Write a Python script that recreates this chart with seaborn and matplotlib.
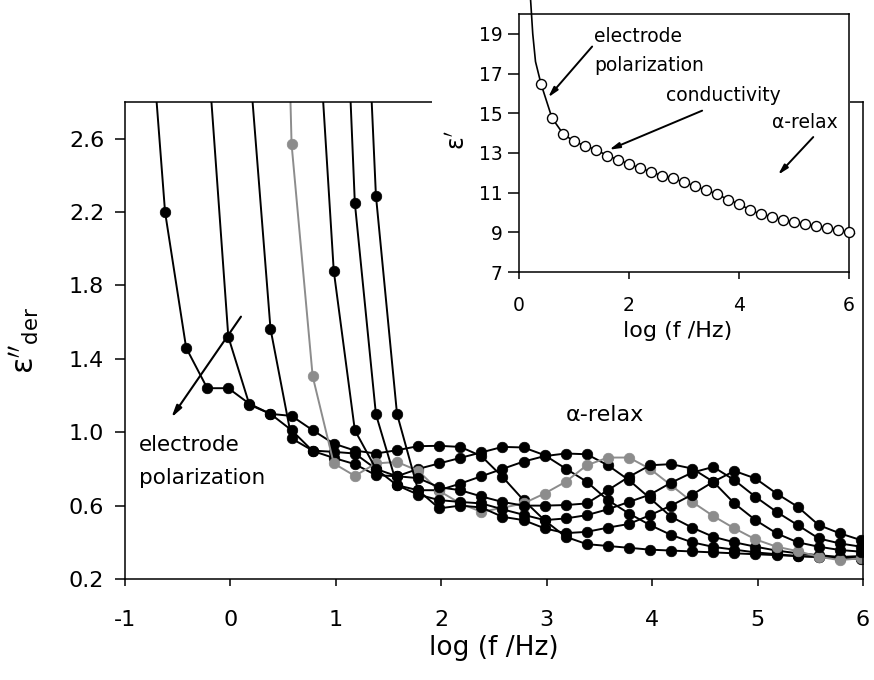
import numpy as np
import pandas as pd
import matplotlib
matplotlib.use("Agg")
import matplotlib.pyplot as plt
from matplotlib.patches import Rectangle
import seaborn as sns

# main panel: derivative loss, markers every 0.2 decade (first point of each series lies above the frame)
logf_grid = [-0.82, -0.62, -0.42, -0.22, -0.02, 0.18, 0.38, 0.58, 0.78, 0.98, 1.18, 1.38,
             1.58, 1.78, 1.98, 2.18, 2.38, 2.58, 2.78, 2.98, 3.18, 3.38, 3.58, 3.78, 3.98,
             4.18, 4.38, 4.58, 4.78, 4.98, 5.18, 5.38, 5.58, 5.78, 5.98]

eps_der_1 = [3.70, 2.20, 1.46, 1.24, 1.24, 1.155, 1.10, 1.089, 1.011, 0.938, 0.90, 0.884,
             0.902, 0.924, 0.926, 0.92, 0.87, 0.757, 0.63, 0.52, 0.43, 0.39, 0.38, 0.37,
             0.36, 0.355, 0.35, 0.345, 0.34, 0.335, 0.33, 0.325, 0.32, 0.315, 0.31]
eps_der_2 = [3.12, 1.52, 1.15, 1.10, 1.011, 0.898, 0.86, 0.826, 0.766, 0.76, 0.80, 0.83,
             0.86, 0.89, 0.92, 0.917, 0.875, 0.802, 0.73, 0.63, 0.557, 0.494, 0.44, 0.40,
             0.375, 0.36, 0.345, 0.335, 0.325, 0.32, 0.315, 0.315]
eps_der_3 = [3.02, 1.564, 0.966, 0.90, 0.893, 0.884, 0.80, 0.711, 0.684, 0.684, 0.72, 0.76,
             0.80, 0.84, 0.87, 0.884, 0.88, 0.82, 0.739, 0.64, 0.539, 0.48, 0.43, 0.40,
             0.376, 0.355, 0.34, 0.33, 0.32, 0.325]
eps_der_4 = [7.0, 2.57, 1.305, 0.83, 0.762, 0.83, 0.838, 0.79, 0.68, 0.612, 0.566, 0.588,
             0.612, 0.666, 0.73, 0.82, 0.862, 0.862, 0.80, 0.711, 0.62, 0.543, 0.476, 0.416,
             0.376, 0.352, 0.321, 0.303, 0.313]
eps_der_5 = [3.72, 1.88, 1.011, 0.80, 0.76, 0.75, 0.70, 0.684, 0.65, 0.62, 0.60, 0.60,
             0.603, 0.612, 0.684, 0.757, 0.82, 0.826, 0.802, 0.73, 0.612, 0.521, 0.449, 0.40,
             0.376, 0.358, 0.349]
eps_der_6 = [5.0, 2.25, 1.098, 0.711, 0.66, 0.63, 0.62, 0.612, 0.58, 0.55, 0.521, 0.53,
             0.548, 0.58, 0.62, 0.66, 0.725, 0.78, 0.811, 0.739, 0.648, 0.566, 0.494, 0.421,
             0.394, 0.376]
eps_der_7 = [4.84, 2.29, 1.10, 0.684, 0.585, 0.60, 0.59, 0.539, 0.521, 0.476, 0.45, 0.457,
             0.48, 0.50, 0.548, 0.60, 0.66, 0.73, 0.789, 0.748, 0.666, 0.594, 0.494, 0.449,
             0.412]

main_series = [eps_der_1, eps_der_2, eps_der_3, eps_der_4, eps_der_5, eps_der_6, eps_der_7]
series_colors = ["black", "black", "black", "#8c8c8c", "black", "black", "black"]

# inset: real permittivity
inset_logf = [0.4, 0.6, 0.8, 1.0, 1.2, 1.4, 1.6, 1.8, 2.0, 2.2, 2.4, 2.6, 2.8, 3.0, 3.2,
              3.4, 3.6, 3.8, 4.0, 4.2, 4.4, 4.6, 4.8, 5.0, 5.2, 5.4, 5.6, 5.8, 6.0]
eps_prime = [16.48, 14.76, 13.97, 13.58, 13.36, 13.16, 12.87, 12.66, 12.44, 12.24, 12.05,
             11.85, 11.73, 11.51, 11.34, 11.11, 10.94, 10.64, 10.43, 10.13, 9.91, 9.79,
             9.61, 9.51, 9.41, 9.31, 9.21, 9.11, 9.00]
inset_tail_logf = [0.21, 0.25, 0.30]
inset_tail_eps = [20.74, 19.0, 17.6]
inset_end_logf = [6.1]
inset_end_eps = [8.93]

sns.set_style("ticks")
plt.rcParams['font.family'] = ['DejaVu Sans']
plt.rcParams['mathtext.fontset'] = 'dejavusans'
plt.rcParams['axes.unicode_minus'] = False
plt.rcParams['text.color'] = 'black'
plt.rcParams['axes.labelcolor'] = 'black'
plt.rcParams['xtick.color'] = 'black'
plt.rcParams['ytick.color'] = 'black'

W, H = 874, 680
fig = plt.figure(figsize=(W / 100, H / 100), dpi=100)
fig.patch.set_facecolor("white")

ax = fig.add_axes([125 / W, (H - 579) / H, (863 - 125) / W, (579 - 102) / H])
ax.set_facecolor("white")

for vals, col in zip(main_series, series_colors):
    xs = logf_grid[-len(vals):]
    sns.lineplot(x=xs, y=vals, ax=ax, color=col, linewidth=1.4, marker="o",
                 markersize=7.6, markeredgecolor=col, markeredgewidth=0.5,
                 legend=False, sort=False, estimator=None)

ax.set_xlim(-1, 6)
ax.set_ylim(0.2, 2.8)
ax.set_xticks(range(-1, 7))
ax.set_xticklabels([str(v) for v in range(-1, 7)])
yt = [0.2, 0.6, 1.0, 1.4, 1.8, 2.2, 2.6]
ax.set_yticks(yt)
ax.set_yticklabels([f"{v:.1f}" for v in yt])
ax.tick_params(axis="x", direction="out", length=5, width=1.1, pad=17, labelsize=16)
ax.tick_params(axis="y", direction="out", length=7, width=1.1, pad=8, labelsize=16)
for sp in ax.spines.values():
    sp.set_visible(True)
    sp.set_color("black")
    sp.set_linewidth(1.1)

ax.set_xlabel("log (f /Hz)", fontsize=19)
ax.xaxis.set_label_coords(0.5, -0.118)
ax.set_ylabel(r"$\mathrm{\varepsilon}''_{\mathrm{der}}$", fontsize=22)
ax.yaxis.set_label_coords(-0.112, 0.5)

ax.text(-0.87, 0.897, "electrode", fontsize=15.5, va="baseline", ha="left")
ax.text(-0.87, 0.717, "polarization", fontsize=15.5, va="baseline", ha="left")
ax.text(3.18, 1.06, "α-relax", fontsize=16, va="baseline", ha="left")
ax.annotate("", xy=(-0.56, 1.08), xytext=(0.10, 1.63),
            arrowprops=dict(arrowstyle="-|>,head_length=0.7,head_width=0.18",
                            color="black", lw=1.5, shrinkA=0, shrinkB=0))

# white panel holding the inset
fig.patches.append(Rectangle((432 / W, (H - 352) / H), (850 - 432) / W, 352 / H,
                             transform=fig.transFigure, facecolor="white",
                             edgecolor="none", zorder=2))

axi = fig.add_axes([519 / W, (H - 272) / H, 330 / W, 258 / H])
axi.set_zorder(3)
axi.set_facecolor("white")
curve_x = inset_tail_logf + inset_logf + inset_end_logf
curve_y = inset_tail_eps + eps_prime + inset_end_eps
sns.lineplot(x=curve_x, y=curve_y, ax=axi, color="black", linewidth=1.2,
             legend=False, sort=False, estimator=None, clip_on=False)
sns.scatterplot(x=inset_logf, y=eps_prime, ax=axi, s=52, facecolor="white",
                edgecolor="black", linewidth=1.0, legend=False, zorder=3, clip_on=False)
axi.set_xlim(0, 6)
axi.set_ylim(7, 20)
axi.set_xticks([0, 2, 4, 6])
axi.set_yticks([7, 9, 11, 13, 15, 17, 19])
axi.tick_params(axis="x", direction="out", length=5, width=1.1, pad=12, labelsize=13.5)
axi.tick_params(axis="y", direction="out", length=8, width=1.1, pad=4, labelsize=13.5)
for sp in axi.spines.values():
    sp.set_visible(True)
    sp.set_color("black")
    sp.set_linewidth(1.1)
axi.set_xlabel("log (f /Hz)", fontsize=16)
axi.xaxis.set_label_coords(0.48, -0.19)
axi.set_ylabel(r"$\mathrm{\varepsilon}'$", fontsize=17)
axi.yaxis.set_label_coords(-0.15, 0.51)

axi.text(1.36, 18.6, "electrode", fontsize=13.5, va="baseline")
axi.text(1.36, 17.12, "polarization", fontsize=13.5, va="baseline")
axi.text(2.67, 15.6, "conductivity", fontsize=13.5, va="baseline")
axi.text(4.6, 14.26, "α-relax", fontsize=13.5, va="baseline")
arrow_kw = dict(arrowstyle="-|>,head_length=0.6,head_width=0.16", color="black",
                lw=1.4, shrinkA=0, shrinkB=0)
axi.annotate("", xy=(0.53, 15.8), xytext=(1.33, 18.36), arrowprops=arrow_kw)
axi.annotate("", xy=(1.64, 13.16), xytext=(3.33, 15.13), arrowprops=arrow_kw)
axi.annotate("", xy=(4.71, 11.9), xytext=(5.35, 13.8), arrowprops=arrow_kw)

fig.savefig("out.png", dpi=100, facecolor="white")
